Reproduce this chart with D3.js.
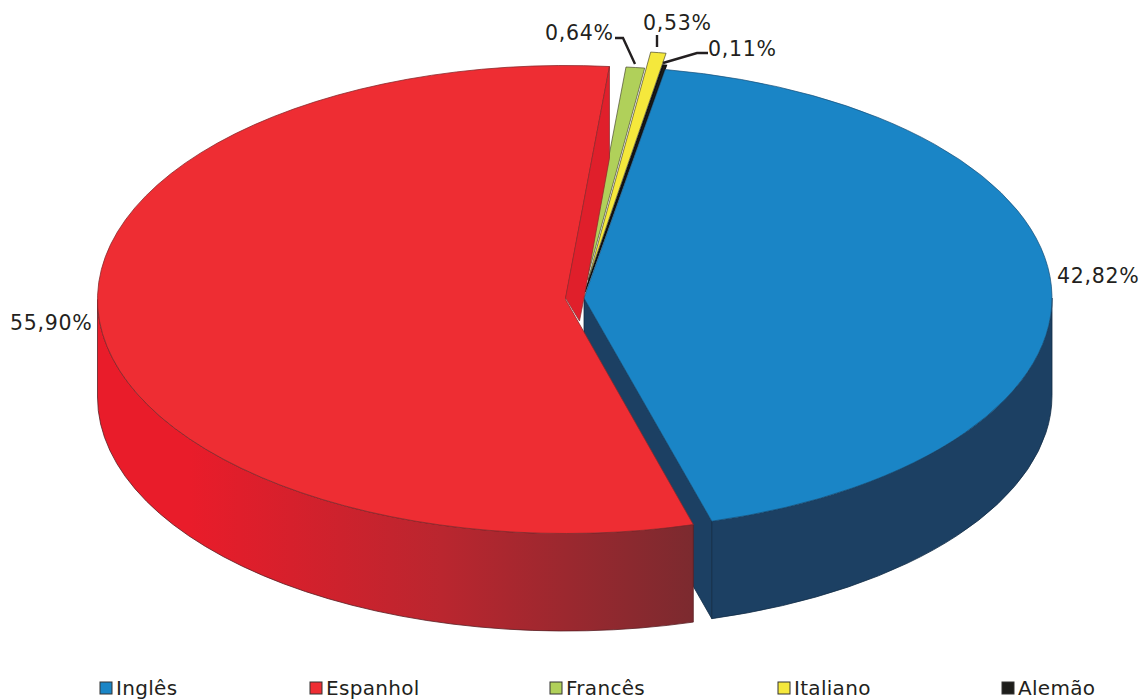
<!DOCTYPE html>
<html><head><meta charset="utf-8">
<script src="https://cdn.jsdelivr.net/npm/d3@7/dist/d3.min.js"></script>
<style>html,body{margin:0;padding:0;background:#fff}svg{display:block}</style>
</head><body><svg id="c" width="1144" height="700"></svg>
<script>
const categories = ["Inglês","Espanhol","Francês","Italiano","Alemão"];
const values = [42.82,55.90,0.64,0.53,0.11];
const valueLabels = ["42,82%","55,90%","0,64%","0,53%","0,11%"];
const topColors = ["#1a85c6","#ee2d33","#b0d05a","#f5e83c","#1d1d1b"];
const wallStops = [["#1c4063","#1c4063","#1c4063"],["#e91c2a","#ba262f","#7c2a2f"]];
const centersX = [584,565.5,582,588,585];
const centersY = [298,299.5,297,280,292];
const radiiX = [468,468,468,468,468];
const radiiY = [232,234,231,230,230];
const labelX = [1057,10,545,643,708];
const labelY = [283,330,40,30,56];
const legendX = [100,310,550,778,1002];
const firstAngle = 10 * Math.PI / 180;
const depth = 97.5;

const svg = d3.select("#c");
const defs = svg.append("defs");
const pie = d3.pie().sort(null).value(d=>d).startAngle(firstAngle).endAngle(firstAngle+2*Math.PI);
const arcs = pie(values);
const pt = (i,a)=>[centersX[i]+radiiX[i]*Math.sin(a), centersY[i]-radiiY[i]*Math.cos(a)];

function sectorPath(i){
  const a=arcs[i], [x0,y0]=pt(i,a.startAngle), [x1,y1]=pt(i,a.endAngle);
  const large=(a.endAngle-a.startAngle)>Math.PI?1:0;
  return `M${centersX[i]},${centersY[i]}L${x0},${y0}A${radiiX[i]},${radiiY[i]} 0 ${large} 1 ${x1},${y1}Z`;
}
function wallPath(i){
  const a=arcs[i];
  const s=Math.max(a.startAngle,Math.PI/2), e=Math.min(a.endAngle,1.5*Math.PI);
  const [x0,y0]=pt(i,s),[x1,y1]=pt(i,e), R=`${radiiX[i]},${radiiY[i]}`;
  return `M${x0},${y0}A${R} 0 0 1 ${x1},${y1}L${x1},${y1+depth}A${R} 0 0 0 ${x0},${y0+depth}Z`;
}
function radialWall(i,angle){
  const c=[centersX[i],centersY[i]],p=pt(i,angle);
  return `M${c}L${p}L${p[0]},${p[1]+depth}L${c[0]},${c[1]+depth}Z`;
}
[0,1].forEach(i=>{
  const g=defs.append("linearGradient").attr("id","w"+i).attr("gradientUnits","userSpaceOnUse")
   .attr("x1",i?190:712).attr("x2",i?692:1052).attr("y1",0).attr("y2",0);
  wallStops[i].forEach((c,k)=>g.append("stop").attr("offset",k/2).attr("stop-color",c));
});
// Blue
svg.append("path").attr("d",radialWall(0,arcs[0].endAngle)).attr("fill",wallStops[0][0]).attr("stroke","#122c45").attr("stroke-width",.8);
svg.append("path").attr("d",wallPath(0)).attr("fill","url(#w0)").attr("stroke","#122c45").attr("stroke-width",.8);
// small slices behind blue
[2,3,4].forEach(i=>{
  svg.append("path").attr("d",sectorPath(i)).attr("fill",topColors[i]).attr("stroke",i==4?"#111":"#4a4a30").attr("stroke-width",i==4?1.6:.7);
});
svg.append("path").attr("d",sectorPath(0)).attr("fill",topColors[0]).attr("stroke","#174f78").attr("stroke-width",.7);
// Red
svg.append("path").attr("d",wallPath(1)).attr("fill","url(#w1)").attr("stroke","#5a2024").attr("stroke-width",.8);
svg.append("path").attr("d",sectorPath(1)).attr("fill",topColors[1]).attr("stroke","#8a2a2c").attr("stroke-width",.8);
// Red end wall seen inside the notch
(function(){
  const c=[centersX[1],centersY[1]-1.5], p=pt(1,arcs[1].endAngle);
  const d=`M${c}L${p}L${p[0]},${p[1]+depth*0.94}L${centersX[0]},${centersY[0]}L${c[0]+14},${c[1]+23}Z`;
  svg.append("path").attr("d",d).attr("fill","#e01f2b").attr("stroke","#8a2a2c").attr("stroke-width",.7);
})();
// Leader lines
const leaders=[[[615,38],[623,38],[635,64]],[[657,35],[657,47]],[[708,53],[697,53],[663,63]]];
const line=d3.line();
leaders.forEach(l=>svg.append("path").attr("d",line(l)).attr("fill","none").attr("stroke","#231f20").attr("stroke-width",2.4));
// Labels
svg.selectAll("text.v").data(valueLabels).join("text").attr("class","v")
  .attr("x",(d,i)=>labelX[i]).attr("y",(d,i)=>labelY[i]).text(d=>d)
  .attr("font-family","DejaVu Sans").attr("font-size",20.5).attr("letter-spacing",.7).attr("fill","#231f20");
// Legend
const lg=svg.selectAll("g.l").data(categories).join("g").attr("class","l").attr("transform",(d,i)=>`translate(${legendX[i]},682)`);
lg.append("rect").attr("width",12).attr("height",12).attr("fill",(d,i)=>topColors[i]).attr("stroke","#333").attr("stroke-width",1);
lg.append("text").attr("x",16).attr("y",13).text(d=>d).attr("font-family","DejaVu Sans").attr("font-size",20).attr("letter-spacing",.3).attr("fill","#231f20");
</script></body></html>
